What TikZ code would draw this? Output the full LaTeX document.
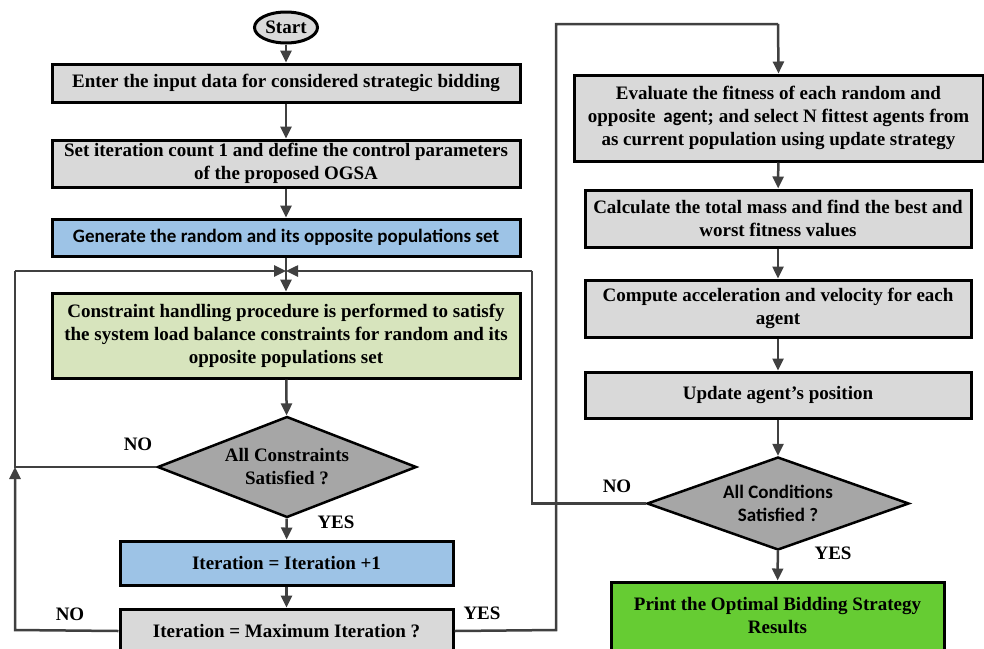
\documentclass[tikz,border=0pt]{standalone}
\usepackage{fontspec}
\setmainfont{Liberation Serif}
\newfontfamily\sansb{Carlito}
\usetikzlibrary{shapes.geometric,arrows.meta}
\definecolor{boxgray}{HTML}{D9D9D9}
\definecolor{boxblue}{HTML}{9DC3E6}
\definecolor{boxolive}{HTML}{D7E4BD}
\definecolor{diagray}{HTML}{A6A6A6}
\definecolor{boxgreen}{HTML}{66CC33}
\definecolor{linegray}{HTML}{404040}
\tikzset{
  txt/.style={font=\fontsize{19}{23}\selectfont\bfseries, align=center},
  procbox/.style={txt, draw=black, line width=3pt, inner sep=0pt, rectangle},
  decbox/.style={txt, diamond, draw=black, fill=diagray, line width=2.5pt, inner sep=0pt, aspect=2.6},
  conn/.style={draw=linegray, line width=2.5pt, -{Triangle[length=12pt,width=11pt]}},
  plain/.style={draw=linegray, line width=2.5pt},
  lbl/.style={font=\fontsize{19}{23}\selectfont\bfseries, inner sep=0pt},
}
\begin{document}
\begin{tikzpicture}[x=1pt,y=-1pt]
\clip (0,0) rectangle (984,648);
\fill[white] (0,0) rectangle (984,648);
% nodes
\node[txt, ellipse, draw=black, fill=boxgray, line width=3pt, minimum width=63pt, minimum height=31pt, inner sep=0pt] (start) at (286,27.5) {Start};
\node[procbox, fill=boxgray, minimum width=468pt, minimum height=38pt] (b1) at (286,83) {Enter the input data for considered strategic bidding};
\node[procbox, fill=boxgray, minimum width=468pt, minimum height=47pt] (b2) at (286,163.5) {Set iteration count 1 and define the control parameters\\of the proposed OGSA};
\node[procbox, fill=boxblue, minimum width=468pt, minimum height=37pt, font=\fontsize{19}{23}\selectfont\sansb\bfseries] (b3) at (286,237.5) {Generate the random and its opposite populations set};
\coordinate (J) at (286,271);
\node[procbox, fill=boxolive, minimum width=468pt, minimum height=85pt] (b4) at (286,335.5) {Constraint handling procedure is performed to satisfy\\the system load balance constraints for random and its\\opposite populations set};
\node[decbox, minimum width=259pt, minimum height=101pt] (d1) at (287,467) {All Constraints\\Satisfied ?};
\node[procbox, fill=boxblue, minimum width=333pt, minimum height=44pt] (b5) at (286.5,563) {Iteration = Iteration +1};
\node[procbox, fill=boxgray, minimum width=333pt, minimum height=44pt] (b6) at (286.5,631) {Iteration = Maximum Iteration ?};
\node[procbox, fill=boxgray, minimum width=409pt, minimum height=86pt] (b7) at (778.5,118) {Evaluate the fitness of each random and\\opposite\, {\sansb agent}; and select N fittest agents from\\as current population using update strategy};
\node[procbox, fill=boxgray, minimum width=386pt, minimum height=57pt] (b8) at (778,218.5) {Calculate the total mass and find the best and\\worst fitness values};
\node[procbox, fill=boxgray, minimum width=386pt, minimum height=57pt] (b9) at (778,308.5) {Compute acceleration and velocity for each\\agent};
\node[procbox, fill=boxgray, minimum width=386pt, minimum height=46pt] (b10) at (778,395) {Update agent's position};
\node[decbox, minimum width=262pt, minimum height=93pt, font=\fontsize{19}{23}\selectfont\sansb\bfseries] (d2) at (778,503.5) {All Conditions\\Satisfied ?};
\node[procbox, fill=boxgreen, minimum width=333pt, minimum height=68pt] (b11) at (777.5,616) {Print the Optimal Bidding Strategy\\Results};
% corner coordinates
\coordinate (LA) at (15,467);
\coordinate (LT) at (15,271);
\coordinate (LB) at (15,630);
\coordinate (RB) at (556,630);
\coordinate (RT) at (556,24);
\coordinate (RTT) at (778,24);
\coordinate (NB) at (532,503.5);
\coordinate (NT) at (532,271);
% labels
\node[lbl] (no1) at (138,444) {NO};
\node[lbl] (yes1) at (336,522) {YES};
\node[lbl] (no2) at (70,614) {NO};
\node[lbl] (yes2) at (482,613) {YES};
\node[lbl] (no3) at (617,486) {NO};
\node[lbl] (yes3) at (833,553) {YES};
% connectors
\draw[conn] (start) -- (b1);
\draw[conn] (b1) -- (b2);
\draw[conn] (b2) -- (b3);
\draw[plain] (b3.south) -- (J);
\draw[conn] (J) -- (b4.north);
\draw[conn] (b4) -- (d1);
\draw[conn] (d1) -- (b5);
\draw[conn] (b5) -- (b6);
\draw[plain] (d1.west) -- (LA) -- (LT);
\draw[conn] (LT) -- (J);
\draw[conn] (b6.west) -- (LB) -- (LA);
\draw[plain] (b6.east) -- (RB) -- (RT) -- (RTT);
\draw[conn] (RTT) -- (b7.north);
\draw[conn] (b7) -- (b8);
\draw[conn] (b8) -- (b9);
\draw[conn] (b9) -- (b10);
\draw[conn] (b10) -- (d2);
\draw[conn] (d2) -- (b11);
\draw[plain] (d2.west) -- (NB) -- (NT);
\draw[conn] (NT) -- (J);
\end{tikzpicture}
\end{document}
